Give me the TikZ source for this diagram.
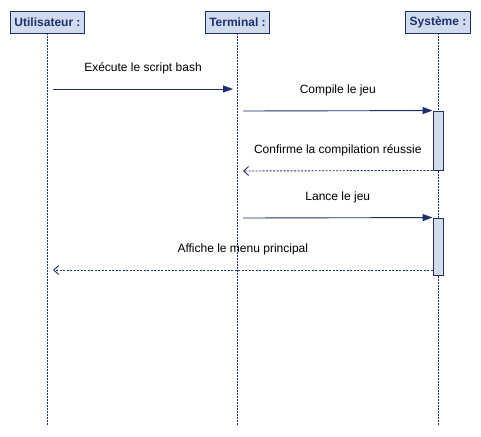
\documentclass[tikz,border=0pt]{standalone}
\usepackage{fontspec}
\setmainfont{Liberation Sans}
\usetikzlibrary{positioning,arrows.meta}
\definecolor{lifelinenavy}{RGB}{28,48,110}
\definecolor{actorfill}{RGB}{208,220,238}

\begin{document}
\begin{tikzpicture}[x=1pt,y=-1pt,
    actor/.style={rectangle,draw=lifelinenavy,fill=actorfill,line width=0.9pt,minimum height=22pt,inner sep=0pt,text=lifelinenavy,font=\fontsize{12}{14}\selectfont\bfseries},
    activation/.style={rectangle,draw=lifelinenavy,fill=actorfill,line width=0.9pt,minimum width=10pt,inner sep=0pt},
    lifeline/.style={draw=lifelinenavy,line width=0.9pt,dash pattern=on 2pt off 1pt},
    call/.style={-{Triangle[length=10pt,width=7pt]},draw=lifelinenavy,line width=0.9pt},
    reply/.style={-{Straight Barb[length=5pt,width=9pt]},draw=lifelinenavy,line width=0.9pt,dash pattern=on 2pt off 1.5pt},
    msg/.style={midway,above=11pt,text=black,font=\fontsize{12}{14}\selectfont}
]
    \useasboundingbox (0,0) rectangle (481,436);

    \node[actor,minimum width=74pt] (user) at (47.5,22) {Utilisateur :};
    \node[actor,minimum width=64pt] (term) at (237.5,22) {Terminal :};
    \node[actor,minimum width=65pt] (sys) at (438,22) {Système :};

    \coordinate (user end) at (47.5,425);
    \coordinate (term end) at (237.5,425);
    \coordinate (sys end) at (438,425);
    \draw[lifeline] (user) -- (user end);
    \draw[lifeline] (term) -- (term end);
    \draw[lifeline] (sys) -- (sys end);

    \node[activation,minimum height=59pt] (compile) at (438,140.5) {};
    \node[activation,minimum height=57pt] (launch) at (438,246.5) {};

    \coordinate (exec from) at (53,89);
    \coordinate (exec to) at (233,89);
    \coordinate (compile from) at (243,111);
    \coordinate (confirm to) at (243,171);
    \coordinate (launch from) at (243,218);
    \coordinate (menu to) at (53,270);

    \draw[call] (exec from) -- node[msg] {Exécute le script bash} (exec to);
    \draw[call] (compile from) -- node[msg] {Compile le jeu} (compile.north west);
    \draw[reply] (compile.south west) -- node[msg] {Confirme la compilation réussie} (confirm to);
    \draw[call] (launch from) -- node[msg] {Lance le jeu} (launch.north west);
    \draw[reply] (launch.west |- menu to) -- node[msg] {Affiche le menu principal} (menu to);
\end{tikzpicture}
\end{document}
